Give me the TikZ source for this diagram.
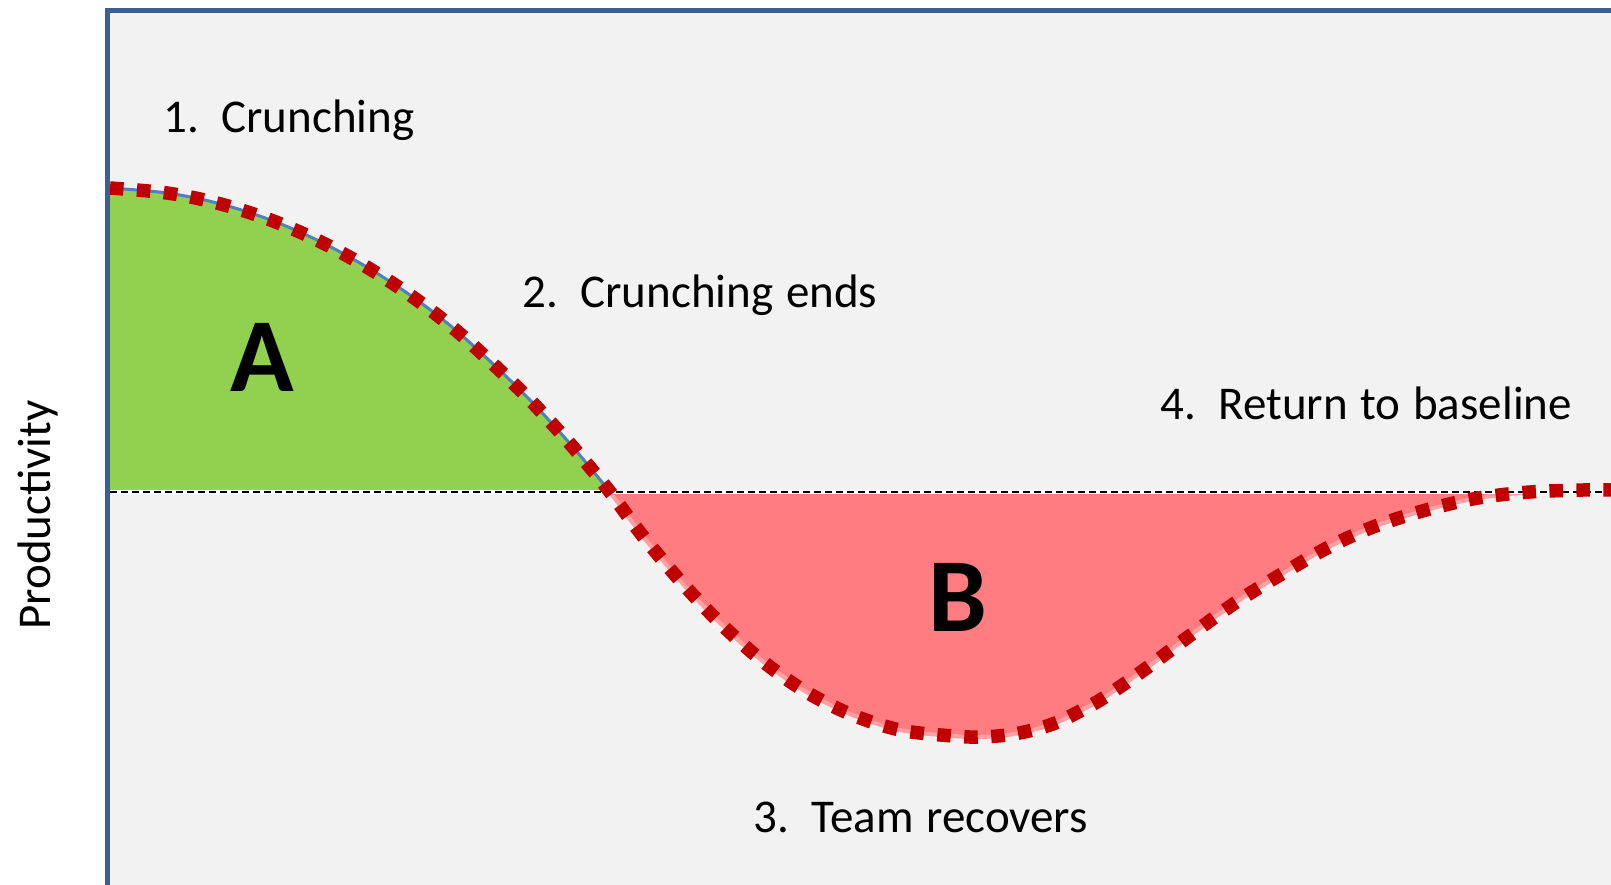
\documentclass[tikz,border=0pt]{standalone}
\usepackage{fontspec}
\setmainfont[WordSpace=1.2]{Carlito}
\definecolor{bggray}{RGB}{242,242,242}
\definecolor{frameblue}{RGB}{59,96,144}
\definecolor{areagreen}{RGB}{146,208,80}
\definecolor{areared}{RGB}{255,124,128}
\definecolor{dotred}{RGB}{192,0,0}
\definecolor{curveblue}{RGB}{79,129,189}
\definecolor{curvepink}{RGB}{255,160,162}
\begin{document}
\begin{tikzpicture}[x=1pt,y=-1pt,
  lbl/.style={anchor=base west, inner sep=0pt, font=\fontsize{47}{56}\selectfont},
  bigletter/.style={anchor=center, inner sep=0pt, font=\fontsize{105}{120}\selectfont\bfseries},
  dotline/.style={draw=dotred, line width=13.5pt, dash pattern=on 13.5pt off 13.5pt},
  smoothc/.style={smooth, tension=0.55},
]
\useasboundingbox (0,0) rectangle (1611,885);
\fill[white] (0,0) rectangle (1611,885);
\fill[bggray] (107.5,10.5) rectangle (1611,885);
\begin{scope}
\clip (110,13) rectangle (1611,885);
% green area A
\fill[areagreen] (110,492) -- plot[smoothc] coordinates {(110,188) (167,193) (217,203) (268,219) (317,240) (365,266) (410,295) (452,327) (492,363) (530,400) (565,438) (588,465) (610,492)} -- cycle;
% red area B
\fill[areared] plot[smoothc] coordinates {(610,492) (632,522) (650,545) (683,584) (720,623) (760,659) (803,690) (850,714) (900,730) (953,736) (980,737) (1007,735) (1033,730) (1058,722) (1082,710) (1105,697) (1148,667) (1192,634) (1235,603) (1280,575) (1327,548) (1373,527) (1426,510) (1478,498) (1530,492)} -- cycle;
% thin outlines
\draw[curveblue, line width=3pt] plot[smoothc] coordinates {(110,188) (167,193) (217,203) (268,219) (317,240) (365,266) (410,295) (452,327) (492,363) (530,400) (565,438) (588,465) (610,492)};
\draw[curvepink, line width=4pt] plot[smoothc] coordinates {(610,492) (632,522) (650,545) (683,584) (720,623) (760,659) (803,690) (850,714) (900,730) (953,736) (980,737) (1007,735) (1033,730) (1058,722) (1082,710) (1105,697) (1148,667) (1192,634) (1235,603) (1280,575) (1327,548) (1373,527) (1426,510) (1478,498) (1530,492)};
% baseline
\coordinate (b0) at (110,492);
\coordinate (b1) at (1611,492);
\draw[white, line width=4pt] (b0) -- (b1);
\draw[black, line width=2pt, dash pattern=on 7pt off 4pt] (b0) -- (b1);
% dotted curve
\draw[dotline] plot[smoothc] coordinates {(110,188) (167,193) (217,203) (268,219) (317,240) (365,266) (410,295) (452,327) (492,363) (530,400) (565,438) (588,465) (610,492) (632,522) (650,545) (683,584) (720,623) (760,659) (803,690) (850,714) (900,730) (953,736) (980,737) (1007,735) (1033,730) (1058,722) (1082,710) (1105,697) (1148,667) (1192,634) (1235,603) (1280,575) (1327,548) (1373,527) (1426,510) (1478,498) (1530,492) (1583,490) (1615,490)};
\end{scope}
% frame
\coordinate (f0) at (107.5,885);
\coordinate (f1) at (107.5,10.5);
\coordinate (f2) at (1611,10.5);
\draw[frameblue, line width=5pt] (f0) -- (f1) -- (f2);
% labels
\node[lbl] (l1) at (163,133) {1.\hspace{0.48em}Crunching};
\node[lbl] (l2) at (522,308) {2.\hspace{0.48em}Crunching ends};
\node[lbl] (l3) at (753,832) {3.\hspace{0.48em}Team recovers};
\node[lbl] (l4) at (1160,419) {4.\hspace{0.48em}Return to baseline};
\node[bigletter] (la) at (262.5,357.5) {A};
\node[bigletter] (lb) at (958,597.5) {B};
\node[rotate=90, anchor=base, inner sep=0pt, font=\fontsize{47}{56}\selectfont] (ylab) at (50,515) {Productivity};
\end{tikzpicture}
\end{document}
